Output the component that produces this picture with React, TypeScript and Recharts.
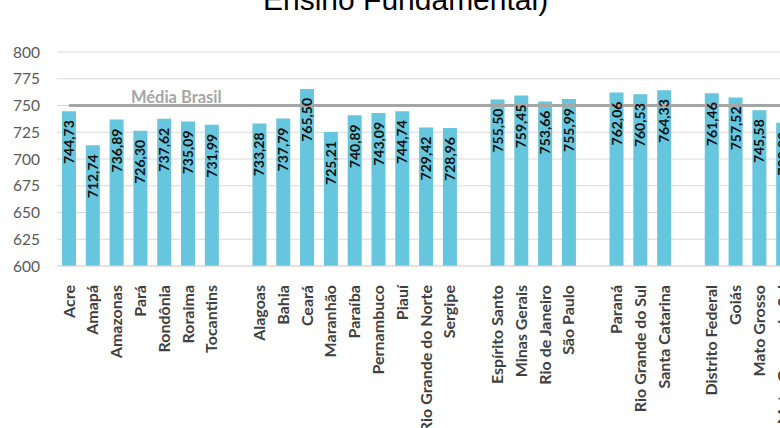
import React from "react";
import {
  Bar,
  BarChart,
  CartesianGrid,
  LabelList,
  ReferenceLine,
  XAxis,
  YAxis,
} from "recharts";

// blank names keep the gaps between regions
const states = [
  "Acre", "Amapá", "Amazonas", "Pará", "Rondônia", "Roraima", "Tocantins",
  " ",
  "Alagoas", "Bahia", "Ceará", "Maranhão", "Paraíba", "Pernambuco", "Piauí", "Rio Grande do Norte", "Sergipe",
  "  ",
  "Espírito Santo", "Minas Gerais", "Rio de Janeiro", "São Paulo",
  "   ",
  "Paraná", "Rio Grande do Sul", "Santa Catarina",
  "    ",
  "Distrito Federal", "Goiás", "Mato Grosso", "Mato Grosso do Sul",
];

const scores: (number | null)[] = [
  744.73, 712.74, 736.89, 726.3, 737.62, 735.09, 731.99,
  null,
  733.28, 737.79, 765.5, 725.21, 740.89, 743.09, 744.74, 729.42, 728.96,
  null,
  755.5, 759.45, 753.66, 755.99,
  null,
  762.06, 760.53, 764.33,
  null,
  761.46, 757.52, 745.58, 733.83,
];

const yTicks = [600, 625, 650, 675, 700, 725, 750, 775, 800];
const mediaBrasil = 750;

const data = states.map((name, i) => ({ name, score: scores[i] }));

const fmt = (v: number) => v.toFixed(2).replace(".", ",");

function StateTick({ x, y, payload }: any) {
  return (
    <g transform={`translate(${x},${y + 17})`}>
      <text
        transform="rotate(-90)"
        textAnchor="end"
        dy="0.35em"
        fill="#404040"
        fontSize={16}
        fontWeight={700}
        fontFamily="Lato, sans-serif"
      >
        {payload.value}
      </text>
    </g>
  );
}

function ValueLabel({ x, y, width, value }: any) {
  if (value == null) return null;
  const cx = Number(x) + Number(width) / 2;
  const top = Number(y) + 9;
  return (
    <text
      transform={`translate(${cx},${top}) rotate(-90)`}
      textAnchor="end"
      dy="0.36em"
      fill="#111"
      fontSize={14}
      fontWeight={700}
      fontFamily="Lato, sans-serif"
    >
      {fmt(Number(value))}
    </text>
  );
}

function MediaLabel({ viewBox }: any) {
  const x = (viewBox?.x ?? 69) + 62;
  const y = (viewBox?.y ?? 105) - 3;
  return (
    <text x={x} y={y} fill="#A6A6A6" fontSize={16.5} fontWeight={700} fontFamily="Lato, sans-serif">
      Média Brasil
    </text>
  );
}

export default function App() {
  return (
    <div
      style={{
        position: "fixed",
        left: 0,
        top: 0,
        width: 780,
        height: 428,
        overflow: "hidden",
        background: "#fff",
      }}
    >
      <div
        style={{
          position: "absolute",
          left: 263,
          top: -15,
          fontFamily: "'Liberation Sans', Arial, sans-serif",
          fontSize: 30,
          lineHeight: "30px",
          color: "#000",
          whiteSpace: "nowrap",
        }}
      >
        Ensino Fundamental)
      </div>
      <BarChart
        width={800}
        height={428}
        data={data}
        margin={{ top: 52, right: 5, bottom: 0, left: 0 }}
        barSize={14}
      >
        <CartesianGrid stroke="#D9D9D9" vertical={false} />
        <XAxis
          dataKey="name"
          interval={0}
          height={162}
          tick={<StateTick />}
          tickLine={false}
          tickSize={0}
          axisLine={{ stroke: "#E3D6D6" }}
        />
        <YAxis
          domain={[600, 800]}
          ticks={yTicks}
          width={57}
          tickLine={false}
          tickSize={0}
          tickMargin={17}
          axisLine={false}
          tick={{ fill: "#595959", fontSize: 15.5, fontFamily: "Lato, sans-serif" }}
        />
        <Bar dataKey="score" fill="#66C6DD" isAnimationActive={false}>
          <LabelList dataKey="score" content={<ValueLabel />} />
        </Bar>
        <ReferenceLine
          segment={[
            { x: states[0], y: mediaBrasil },
            { x: states[states.length - 1], y: mediaBrasil },
          ]}
          stroke="#A6A6A6"
          strokeWidth={3}
          label={<MediaLabel />}
        />
      </BarChart>
    </div>
  );
}
